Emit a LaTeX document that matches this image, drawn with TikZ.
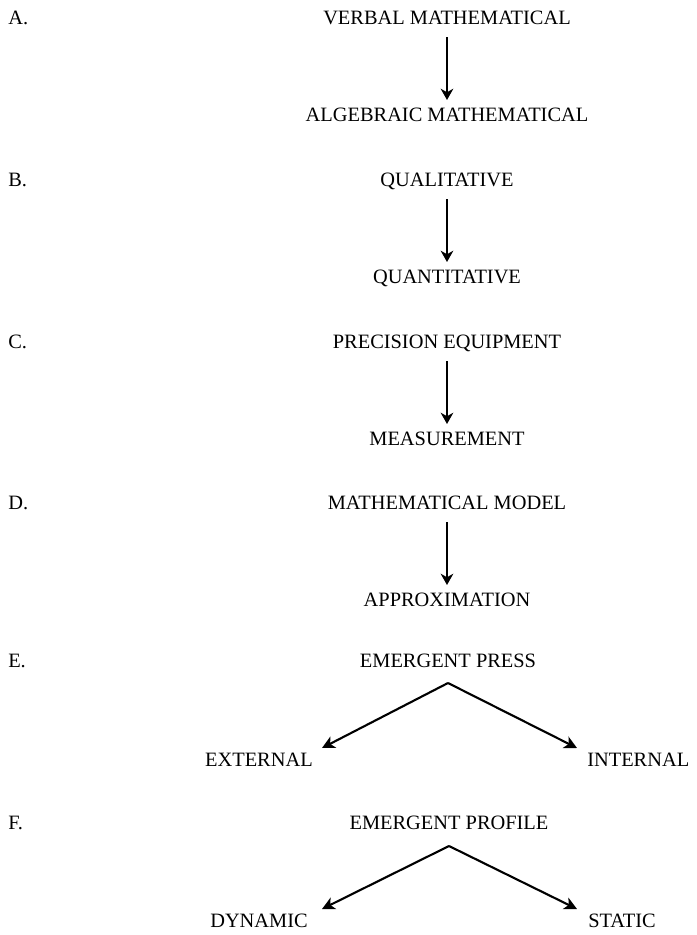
\documentclass[tikz,border=0pt]{standalone}
\usepackage{fontspec}
\setmainfont{Liberation Serif}
\usetikzlibrary{arrows.meta,positioning}

\begin{document}
\begin{tikzpicture}[x=0.025cm, y=-0.025cm,
  lbl/.style={font=\fontsize{14.5}{17}\selectfont, inner sep=0pt, text height=9.6pt, text depth=0pt},
  tag/.style={lbl, anchor=west},
  arr/.style={-{Stealth[length=8pt, width=9pt, inset=2.5pt]}, line width=1.1pt,
              shorten <=0.3cm, shorten >=0.2cm},
  darr/.style={-{Stealth[length=9pt, width=9pt, inset=2.5pt]}, line width=1.5pt}]
\useasboundingbox (0,0) rectangle (697,935);
%% ---- A ----
\node[tag] (tA) at (8,18) {A.};
\node[lbl] (vm) at (447,18) {VERBAL MATHEMATICAL};
\node[lbl] (am) at (447,115) {ALGEBRAIC MATHEMATICAL};
\draw[arr] (vm) -- (am);
%% ---- B ----
\node[tag] (tB) at (8,180) {B.};
\node[lbl] (ql) at (447,180) {QUALITATIVE};
\node[lbl] (qn) at (447,277) {QUANTITATIVE};
\draw[arr] (ql) -- (qn);
%% ---- C ----
\node[tag] (tC) at (8,342) {C.};
\node[lbl] (pe) at (447,342) {PRECISION EQUIPMENT};
\node[lbl] (ms) at (447,439) {MEASUREMENT};
\draw[arr] (pe) -- (ms);
%% ---- D ----
\node[tag] (tD) at (8,503) {D.};
\node[lbl] (mm) at (447,503) {MATHEMATICAL MODEL};
\node[lbl] (ap) at (447,600) {APPROXIMATION};
\draw[arr] (mm) -- (ap);
%% ---- E ----
\node[tag] (tE) at (8,661) {E.};
\node[lbl] (press) at (448,661) {EMERGENT PRESS};
\node[lbl, anchor=east] (ext) at (313,760) {EXTERNAL};
\node[lbl, anchor=west] (int) at (587,760) {INTERNAL};
\coordinate (topE) at (448,683);
\coordinate (extTip) at (322,748);
\coordinate (intTip) at (577,748);
\draw[darr] (topE) -- (extTip);
\draw[darr] (topE) -- (intTip);
%% ---- F ----
\node[tag] (tF) at (8,823) {F.};
\node[lbl] (prof) at (449,823) {EMERGENT PROFILE};
\node[lbl, anchor=east] (dyn) at (308,921) {DYNAMIC};
\node[lbl, anchor=west] (stat) at (588,921) {STATIC};
\coordinate (topF) at (449,846);
\coordinate (dynTip) at (322,909);
\coordinate (statTip) at (577,909);
\draw[darr] (topF) -- (dynTip);
\draw[darr] (topF) -- (statTip);
\end{tikzpicture}
\end{document}
